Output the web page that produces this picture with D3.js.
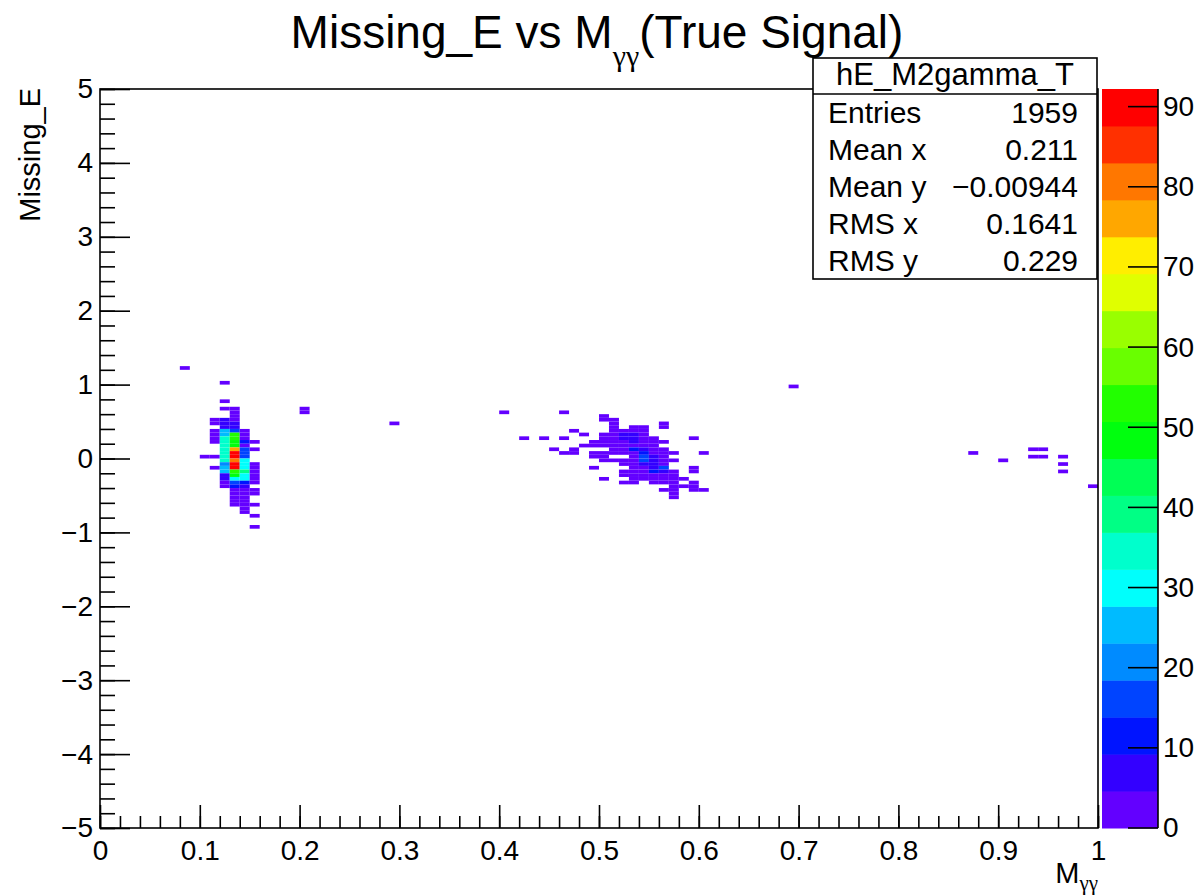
<!DOCTYPE html>
<html><head><meta charset="utf-8">
<script src="https://cdn.jsdelivr.net/npm/d3@7"></script>
<style>
body{margin:0;background:#fff}
text{font-family:"Liberation Sans",Arial,Helvetica,sans-serif;fill:#000}
.gr{font-family:"Liberation Serif","DejaVu Serif",serif}
</style>
</head><body>
<svg id="c" width="1201" height="896"></svg>
<script>
// ---------------- data ----------------
const xTickValues = [0,0.1,0.2,0.3,0.4,0.5,0.6,0.7,0.8,0.9,1];
const yTickValues = [-5,-4,-3,-2,-1,0,1,2,3,4,5];
const zTickValues = [0,10,20,30,40,50,60,70,80,90];
const xBinWidth = 0.01, yBinWidth = 0.05;
const zMax = 92.2;           // top of colour axis
const nContours = 20;

// [x bin low edge, y bin low edge, entries]
const pi0Cells = [
  [0.10,0.00,2],
  [0.11,0.50,3],[0.11,0.45,3],[0.11,0.35,2],[0.11,0.30,3],[0.11,0.25,3],[0.11,0.20,2],[0.11,0.00,3],[0.11,-0.15,2],
  [0.12,1.00,1],[0.12,0.75,1],[0.12,0.65,2],[0.12,0.50,6],[0.12,0.45,7],[0.12,0.40,6],[0.12,0.35,26],[0.12,0.30,25],
  [0.12,0.25,34],[0.12,0.20,35],[0.12,0.15,34],[0.12,0.10,33],[0.12,0.05,35],[0.12,0.00,34],[0.12,-0.05,36],
  [0.12,-0.10,20],[0.12,-0.15,26],[0.12,-0.20,24],[0.12,-0.25,7],[0.12,-0.30,6],[0.12,-0.35,3],[0.12,-0.40,3],
  [0.13,0.65,2],[0.13,0.60,3],[0.13,0.55,3],[0.13,0.50,4],[0.13,0.45,6],[0.13,0.40,7],[0.13,0.35,16],[0.13,0.30,52],
  [0.13,0.25,55],[0.13,0.20,48],[0.13,0.15,50],[0.13,0.10,76],[0.13,0.05,90],[0.13,0.00,92],[0.13,-0.05,82],
  [0.13,-0.10,89],[0.13,-0.15,91],[0.13,-0.20,52],[0.13,-0.25,48],[0.13,-0.30,31],[0.13,-0.35,14],[0.13,-0.40,12],
  [0.13,-0.45,4],[0.13,-0.50,3],[0.13,-0.55,2],[0.13,-0.60,2],[0.13,-0.65,1],
  [0.14,0.35,3],[0.14,0.30,3],[0.14,0.25,4],[0.14,0.20,10],[0.14,0.15,3],[0.14,0.10,15],[0.14,0.05,16],[0.14,0.00,14],
  [0.14,-0.05,30],[0.14,-0.10,31],[0.14,-0.15,30],[0.14,-0.20,40],[0.14,-0.25,32],[0.14,-0.30,29],[0.14,-0.35,12],
  [0.14,-0.40,8],[0.14,-0.45,3],[0.14,-0.50,3],[0.14,-0.55,2],[0.14,-0.60,3],[0.14,-0.65,2],[0.14,-0.70,1],[0.14,-0.75,1],
  [0.15,0.20,2],[0.15,0.10,1],[0.15,-0.10,2],[0.15,-0.15,3],[0.15,-0.20,3],[0.15,-0.25,2],[0.15,-0.30,3],[0.15,-0.35,2],
  [0.15,-0.45,2],[0.15,-0.50,1],[0.15,-0.65,1],[0.15,-0.80,1],[0.15,-0.95,1]
];

const etaCells = [
  [0.40,0.60,1],[0.46,0.60,1],
  [0.50,0.55,1],
  [0.50,0.50,1],[0.51,0.50,2],
  [0.51,0.45,2],[0.56,0.45,1],
  [0.51,0.40,3],[0.53,0.40,1],[0.54,0.40,1],[0.56,0.40,1],
  [0.47,0.35,1],[0.51,0.35,3],[0.52,0.35,4],[0.53,0.35,3],[0.54,0.35,2],
  [0.48,0.30,1],[0.50,0.30,1],[0.51,0.30,2],[0.52,0.30,6],[0.53,0.30,5],[0.54,0.30,3],
  [0.42,0.25,1],[0.44,0.25,1],[0.46,0.25,1],[0.50,0.25,1],[0.51,0.25,3],[0.52,0.25,5],[0.53,0.25,6],[0.54,0.25,3],[0.55,0.25,2],[0.59,0.25,1],
  [0.49,0.20,2],[0.50,0.20,2],[0.51,0.20,3],[0.52,0.20,4],[0.53,0.20,5],[0.54,0.20,4],[0.55,0.20,3],[0.56,0.20,1],
  [0.48,0.15,1],[0.49,0.15,1],[0.50,0.15,2],[0.51,0.15,2],[0.52,0.15,3],[0.53,0.15,4],[0.54,0.15,3],[0.55,0.15,2],
  [0.45,0.10,1],[0.47,0.10,2],[0.51,0.10,1],[0.52,0.10,2],[0.53,0.10,10],[0.54,0.10,6],[0.55,0.10,3],[0.56,0.10,2],
  [0.46,0.05,1],[0.47,0.05,1],[0.49,0.05,2],[0.50,0.05,1],[0.51,0.05,2],[0.52,0.05,3],[0.53,0.05,4],[0.54,0.05,11],[0.55,0.05,4],[0.56,0.05,3],[0.57,0.05,1],[0.60,0.05,1],
  [0.49,0.00,1],[0.50,0.00,2],[0.53,0.00,3],[0.54,0.00,15],[0.55,0.00,5],[0.56,0.00,3],
  [0.50,-0.05,1],[0.51,-0.05,1],[0.52,-0.05,2],[0.53,-0.05,4],[0.54,-0.05,14],[0.55,-0.05,6],[0.56,-0.05,4],[0.57,-0.05,2],
  [0.52,-0.10,1],[0.53,-0.10,3],[0.54,-0.10,9],[0.55,-0.10,6],[0.56,-0.10,4],
  [0.49,-0.15,1],[0.53,-0.15,2],[0.54,-0.15,4],[0.55,-0.15,5],[0.56,-0.15,15],[0.59,-0.15,1],
  [0.52,-0.20,2],[0.53,-0.20,3],[0.54,-0.20,3],[0.55,-0.20,10],[0.56,-0.20,5],[0.57,-0.20,2],[0.59,-0.20,1],
  [0.52,-0.25,1],[0.53,-0.25,2],[0.54,-0.25,3],[0.55,-0.25,4],[0.56,-0.25,3],[0.57,-0.25,2],
  [0.50,-0.30,1],[0.53,-0.30,1],[0.54,-0.30,2],[0.55,-0.30,3],[0.56,-0.30,2],[0.57,-0.30,2],[0.58,-0.30,1],
  [0.52,-0.35,1],[0.53,-0.35,1],[0.55,-0.35,1],[0.56,-0.35,2],[0.57,-0.35,2],[0.59,-0.35,1],
  [0.57,-0.40,2],[0.58,-0.40,1],[0.59,-0.40,1],
  [0.56,-0.45,1],[0.57,-0.45,2],[0.59,-0.45,1],[0.60,-0.45,1],
  [0.57,-0.50,1],[0.57,-0.55,1]
];

const strayCells = [
  [0.08,1.20,1],[0.20,0.60,1],[0.20,0.65,1],[0.29,0.45,1],[0.69,0.95,1],
  [0.87,0.05,1],[0.90,-0.05,1],[0.93,0.10,1],[0.94,0.10,1],[0.93,0.00,1],[0.94,0.00,1],
  [0.96,0.00,1],[0.96,-0.10,1],[0.96,-0.20,1],[0.99,-0.40,1]
];

const statsName = "hE_M2gamma_T";
const statsLabels = ["Entries","Mean x","Mean y","RMS x","RMS y"];
const statsValues = ["1959","0.211","\u22120.00944","0.1641","0.229"];

// ---------------- layout ----------------
const svg = d3.select("#c");
const L = 100, R = 1098, T = 89, B = 828;
const x = d3.scaleLinear().domain([0,1]).range([L,R]);
const y = d3.scaleLinear().domain([-5,5]).range([B,T]);
const z = d3.scaleLinear().domain([0,zMax]).range([B,T]);

// ROOT "pretty" palette (SetPalette(1)), 50 colours, sampled for 20 contours
const palette50 = d3.range(50).map(i => d3.hsl(280 - (i+1)*5.6, 1, 0.5).formatHex());
const contourColor = k => palette50[Math.floor((k + 0.99) * 50 / nContours)];
const colorOf = v => contourColor(Math.min(nContours-1, Math.floor(v / zMax * nContours)));

const cells = pi0Cells.concat(etaCells, strayCells);

svg.append("g").selectAll("rect").data(cells).join("rect")
  .attr("x", d => x(d[0]))
  .attr("y", d => y(d[1] + yBinWidth))
  .attr("width", d => x(d[0] + xBinWidth) - x(d[0]))
  .attr("height", d => y(d[1]) - y(d[1] + yBinWidth))
  .attr("fill", d => colorOf(d[2]));

// ---------------- axes ----------------
const fmt = d3.format("~g");
const axStroke = 1.6;
const tickFont = "28px";

function styleAxis(g){
  g.select(".domain").remove();
  g.selectAll("line").attr("stroke","#000").attr("stroke-width",axStroke);
  g.selectAll("text").style("font-size",tickFont).attr("fill","#000");
}

// x minor
svg.append("g").attr("transform",`translate(0,${B})`)
  .call(d3.axisBottom(x).tickValues(d3.range(0,1.0001,0.02)).tickSize(-12).tickFormat(""))
  .call(styleAxis);
// x major
svg.append("g").attr("transform",`translate(0,${B})`)
  .call(d3.axisBottom(x).tickValues(xTickValues).tickSize(-23).tickPadding(12).tickFormat(fmt))
  .call(styleAxis);
// y minor
svg.append("g").attr("transform",`translate(${L},0)`)
  .call(d3.axisLeft(y).tickValues(d3.range(-5,5.0001,0.2)).tickSize(-15).tickFormat(""))
  .call(styleAxis);
// y major
svg.append("g").attr("transform",`translate(${L},0)`)
  .call(d3.axisLeft(y).tickValues(yTickValues).tickSize(-30).tickPadding(7).tickFormat(fmt))
  .call(styleAxis);

// frame
svg.append("rect").attr("x",L).attr("y",T).attr("width",R-L).attr("height",B-T)
  .attr("fill","none").attr("stroke","#000").attr("stroke-width",axStroke);

// ---------------- colour bar ----------------
const CB0 = 1102, CB1 = 1158;
const levels = d3.range(nContours);
svg.append("g").selectAll("rect").data(levels).join("rect")
  .attr("x", CB0).attr("width", CB1-CB0)
  .attr("y", k => z((k+1)*zMax/nContours))
  .attr("height", k => z(k*zMax/nContours) - z((k+1)*zMax/nContours) + 0.5)
  .attr("fill", k => contourColor(k));
svg.append("g").attr("transform",`translate(${CB1},0)`)
  .call(d3.axisRight(z).tickValues(zTickValues).tickSize(0).tickPadding(5).tickFormat(fmt))
  .call(g => { g.select(".domain").remove(); g.selectAll("text").style("font-size",tickFont); });
svg.append("g").selectAll("line").data(zTickValues).join("line")
  .attr("x1", CB1-30).attr("x2", CB1).attr("y1", d => z(d)).attr("y2", d => z(d))
  .attr("stroke","#000").attr("stroke-width",axStroke);
svg.append("line").attr("x1",CB1).attr("x2",CB1).attr("y1",T).attr("y2",B)
  .attr("stroke","#000").attr("stroke-width",axStroke);

// ---------------- stats box ----------------
const SB = {x0:813, x1:1097, y0:58, yh:94, y1:279};
svg.append("rect").attr("x",SB.x0).attr("y",SB.y0).attr("width",SB.x1-SB.x0).attr("height",SB.y1-SB.y0)
  .attr("fill","#fff").attr("stroke","#000").attr("stroke-width",axStroke);
svg.append("line").attr("x1",SB.x0).attr("x2",SB.x1).attr("y1",SB.yh).attr("y2",SB.yh)
  .attr("stroke","#000").attr("stroke-width",axStroke);
svg.append("text").attr("x",(SB.x0+SB.x1)/2).attr("y",85).attr("text-anchor","middle")
  .style("font-size","31px").text(statsName);
const rowH = (SB.y1-SB.yh)/statsLabels.length;
svg.append("g").selectAll("text").data(statsLabels).join("text")
  .attr("x",828).attr("y",(d,i)=>SB.yh + rowH*(i+0.5) + 10).style("font-size","30px").text(d=>d);
svg.append("g").selectAll("text").data(statsValues).join("text")
  .attr("x",1078).attr("y",(d,i)=>SB.yh + rowH*(i+0.5) + 10).attr("text-anchor","end")
  .style("font-size","30px").text(d=>d);

// ---------------- titles ----------------
const title = svg.append("text").attr("x",597).attr("y",48).attr("text-anchor","middle").style("font-size","46px");
title.append("tspan").text("Missing_E vs M");
title.append("tspan").attr("class","gr").attr("dy",18).style("font-size","30px").text("\u03b3\u03b3");
title.append("tspan").attr("dy",-18).text("(True Signal)");

svg.append("text").attr("transform","translate(40,88) rotate(-90)").attr("text-anchor","end")
  .style("font-size","29px").text("Missing_E");

const xl = svg.append("text").attr("x",1098).attr("y",883).attr("text-anchor","end").style("font-size","29px");
xl.append("tspan").text("M");
xl.append("tspan").attr("class","gr").attr("dy",7).style("font-size","21px").text("\u03b3\u03b3");
</script>
</body></html>
